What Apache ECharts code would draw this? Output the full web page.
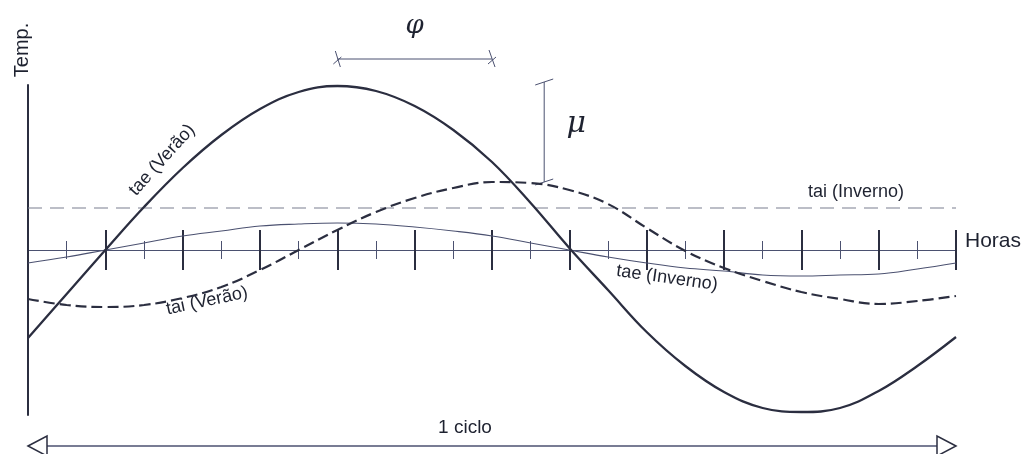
<!DOCTYPE html>
<html>
<head>
<meta charset="utf-8">
<script src="https://cdn.jsdelivr.net/npm/echarts@6/dist/echarts.min.js"></script>
<style>
    html, body {margin: 0; padding: 0; background: #ffffff;}
    #chart {width: 1025px; height: 454px;}
</style>
</head>
<body>
<div id="chart"></div>
<script>
// horas do ciclo
var hours = [0, 1, 2, 3, 4, 5, 6, 7, 8, 9, 10, 11, 12, 13, 14, 15, 16, 17, 18, 19, 20, 21, 22, 23, 24];
// temperatura do ar exterior / interior
var tae_verao = [-88, -44, 0, 43, 82, 115, 141, 158, 164, 159, 144, 120, 88, 47, 2, -40, -82, -116, -142, -158, -162, -158, -141, -116, -87];
var tai_verao = [-49, -55, -57, -55, -48, -37, -20, 0, 20, 38, 52, 62, 68, 67, 60, 46, 22, -1, -18, -31, -42, -49, -54, -51, -46];
var tae_inverno = [-13, -7, 0, 7, 14, 19, 24, 26, 27, 26, 23, 19, 14, 7, 0, -7, -13, -18, -21, -25, -26, -25, -24, -19, -13];
var tai_inverno_hours = [0, 24];
var tai_inverno = [42, 42];
// cotas
var phi_hours = [8, 12];
var phi_level = 191;
var mu_hour = 13.35;
var mu_values = [168, 68];
var ciclo_hours = [0, 24];
var ciclo_level = -196;

var dark = '#2b2e40';
var thin = '#4b5170';
var font = '"Liberation Sans", Arial, sans-serif';

function pairs(xs, ys) {
    return xs.map(function (x, i) {
        return [x, ys[i]];
    });
}

var chartDom = document.getElementById('chart');
var myChart = echarts.init(chartDom);
var option;

// dois grids iguais: um para os traços para baixo, outro para os traços para cima
var gridBox = {left: 28, right: 69, top: 85, bottom: 39};
var xBase = {
    type: 'value',
    min: 0,
    max: 24,
    interval: 2,
    position: 'bottom',
    axisLine: {onZero: true, lineStyle: {color: thin, width: 1.2}},
    axisTick: {show: true, length: 20, lineStyle: {color: dark, width: 2}},
    minorTick: {show: true, splitNumber: 2, length: 9, lineStyle: {color: thin, width: 1}},
    axisLabel: {show: false},
    splitLine: {show: false}
};

option = {
    animation: false,
    backgroundColor: '#ffffff',
    grid: [gridBox, Object.assign({}, gridBox)],
    xAxis: [
        Object.assign({}, xBase, {gridIndex: 0}),
        Object.assign({}, xBase, {gridIndex: 1, axisTick: {show: true, inside: true, length: 20, lineStyle: {color: dark, width: 2}}})
    ],
    yAxis: [{
        gridIndex: 0,
        type: 'value',
        min: -165,
        max: 165,
        axisLine: {show: true, lineStyle: {color: dark, width: 2}},
        axisTick: {show: false},
        axisLabel: {show: false},
        splitLine: {show: false}
    }, {
        gridIndex: 1,
        type: 'value',
        min: -165,
        max: 165,
        axisLine: {show: false},
        axisTick: {show: false},
        axisLabel: {show: false},
        splitLine: {show: false}
    }],
    series: [
        {
            name: 'tai (Inverno)',
            type: 'line',
            data: pairs(tai_inverno_hours, tai_inverno),
            showSymbol: false,
            lineStyle: {color: '#7a7f90', width: 1.1, type: [14, 8]}
        },
        {
            name: 'tae (Inverno)',
            type: 'line',
            smooth: 0.4,
            data: pairs(hours, tae_inverno),
            showSymbol: false,
            lineStyle: {color: thin, width: 1.1}
        },
        {
            name: 'tai (Verão)',
            type: 'line',
            smooth: 0.4,
            data: pairs(hours, tai_verao),
            showSymbol: false,
            lineStyle: {color: dark, width: 2.2, type: [11, 5]}
        },
        {
            name: 'tae (Verão)',
            type: 'line',
            smooth: 0.4,
            data: pairs(hours, tae_verao),
            showSymbol: false,
            lineStyle: {color: dark, width: 2.3}
        }
    ]
};

option && myChart.setOption(option);

// cotas e textos
var p = function (x, y) {
    return myChart.convertToPixel({gridIndex: 0}, [x, y]);
};
var phiA = p(phi_hours[0], phi_level), phiB = p(phi_hours[1], phi_level);
var muA = p(mu_hour, mu_values[0]), muB = p(mu_hour, mu_values[1]);
var cA = p(ciclo_hours[0], ciclo_level), cB = p(ciclo_hours[1], ciclo_level);

function seg(x1, y1, x2, y2, color, w) {
    return {type: 'line', shape: {x1: x1, y1: y1, x2: x2, y2: y2}, style: {stroke: color, lineWidth: w}};
}
function label(txt, x, y, deg, size, extra, align) {
    var el = {
        type: 'text', x: x, y: y, rotation: deg * Math.PI / 180,
        style: {text: txt, font: (size || 18) + 'px ' + font, fill: '#1e2230', align: align || 'center', verticalAlign: 'middle'}
    };
    if (extra) {
        el.style.font = extra;
    }
    return el;
}

var g = [
    // phi
    seg(phiA[0], phiA[1], phiB[0], phiB[1], thin, 1),
    seg(phiA[0] - 2, phiA[1] - 8, phiA[0] + 3, phiA[1] + 8, thin, 1),
    seg(phiA[0] - 4, phiA[1] + 5, phiA[0] + 4, phiA[1] - 2, thin, 1),
    seg(phiB[0] - 3, phiB[1] - 9, phiB[0] + 3, phiB[1] + 8, thin, 1),
    seg(phiB[0] - 4, phiB[1] + 5, phiB[0] + 4, phiB[1] - 2, thin, 1),
    label('φ', (phiA[0] + phiB[0]) / 2, 26, 0, 26, 'italic 26px "DejaVu Serif", serif'),
    // mu
    seg(muA[0], muA[1], muB[0], muB[1], thin, 1),
    seg(muA[0] - 9, muA[1] + 3, muA[0] + 9, muA[1] - 3, thin, 1),
    seg(muB[0] - 9, muB[1] + 3, muB[0] + 9, muB[1] - 3, thin, 1),
    label('μ', muA[0] + 32, (muA[1] + muB[1]) / 2 - 8, 0, 28, 'italic 30px "DejaVu Serif", serif'),
    // 1 ciclo
    seg(cA[0] + 18, cA[1], cB[0] - 18, cB[1], thin, 1.5),
    {type: 'polygon', shape: {points: [[cA[0], cA[1]], [cA[0] + 19, cA[1] - 10], [cA[0] + 19, cA[1] + 10]]}, style: {fill: '#ffffff', stroke: dark, lineWidth: 1.5}},
    {type: 'polygon', shape: {points: [[cB[0], cB[1]], [cB[0] - 19, cB[1] - 10], [cB[0] - 19, cB[1] + 10]]}, style: {fill: '#ffffff', stroke: dark, lineWidth: 1.5}},
    label('1 ciclo', 465, 428, 0, 19),
    // nomes
    label('Horas', 965, 241, 0, 21, null, 'left'),
    label('Temp.', 22, 50, 90, 20),
    label('tae (Verão)', 162, 160, 48, 18),
    label('tai (Verão)', 207, 301, 12, 18),
    label('tae (Inverno)', 667, 278, -8, 18),
    label('tai (Inverno)', 856, 192, 0, 18)
];

myChart.setOption({graphic: g});
</script>
</body>
</html>
